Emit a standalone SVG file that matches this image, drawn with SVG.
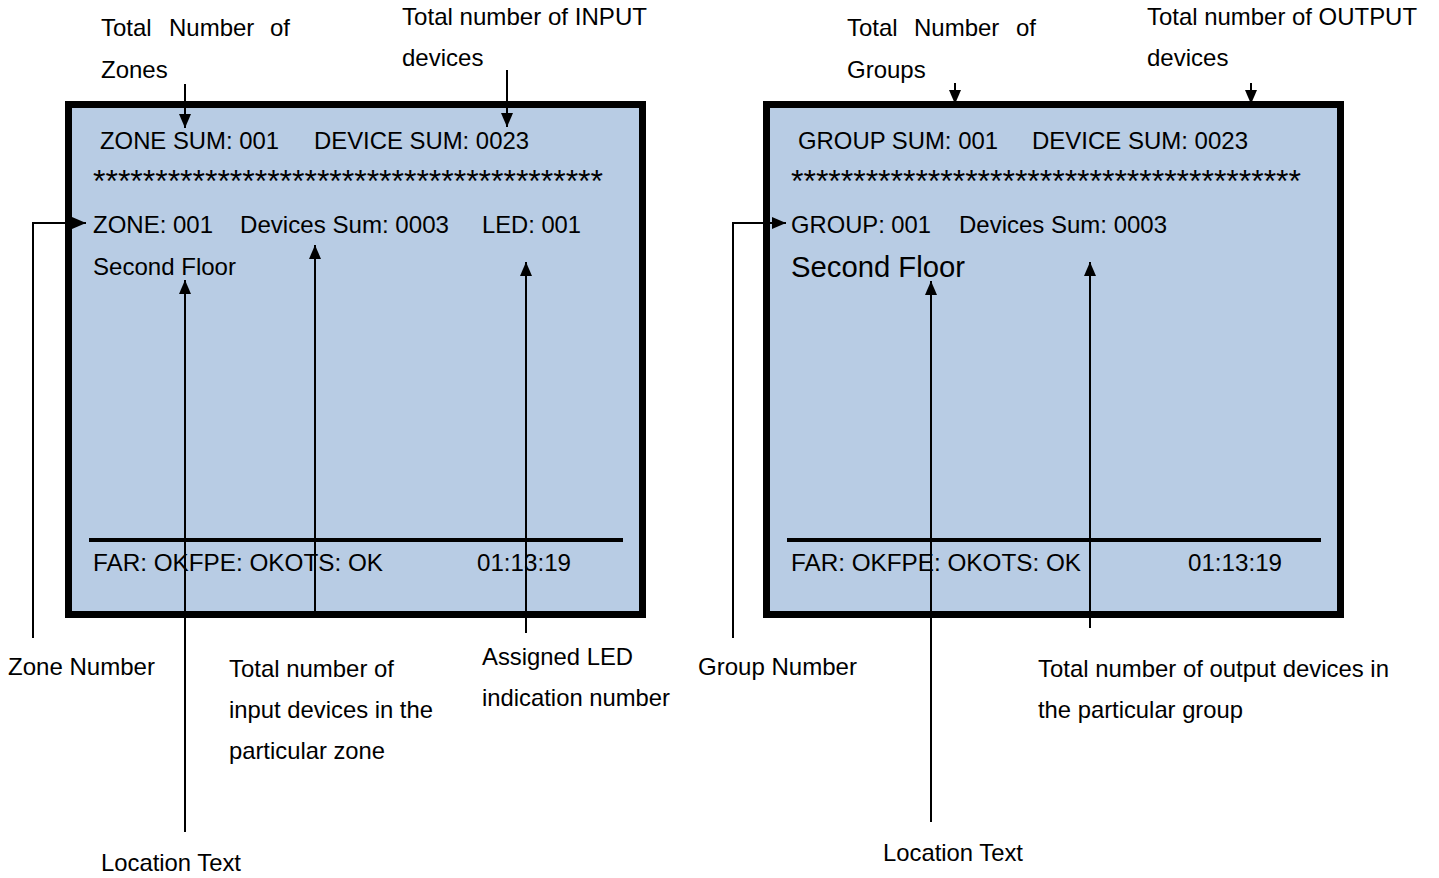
<svg xmlns="http://www.w3.org/2000/svg" width="1439" height="878" viewBox="0 0 1439 878">
<style>
text{font-family:"Liberation Sans",Arial,sans-serif;font-size:24px;fill:#000}
.stars{font-size:32px}
.frame{fill:#b8cce4;stroke:#000;stroke-width:7}
.sep{stroke:#000;stroke-width:4}
.c{fill:none;stroke:#000;stroke-width:2}
</style>
<defs>
<marker id="ah" viewBox="0 0 14 12" refX="14" refY="6" markerWidth="15" markerHeight="12" markerUnits="userSpaceOnUse" orient="auto"><path d="M0,0 L14,6 L0,12 z" fill="#000"/></marker>
</defs>
<rect width="1439" height="878" fill="#fff"/>
<g id="zone-panel">
<rect class="frame" x="68.5" y="104.5" width="574" height="510"/>
<line class="sep" x1="89" y1="540" x2="623" y2="540"/>
<text x="100" y="149" textLength="179" lengthAdjust="spacingAndGlyphs">ZONE SUM: 001</text>
<text x="314" y="149" textLength="215" lengthAdjust="spacingAndGlyphs">DEVICE SUM: 0023</text>
<text class="stars" x="93" y="192" textLength="510" lengthAdjust="spacing">*****************************************</text>
<text x="93" y="233" textLength="120" lengthAdjust="spacingAndGlyphs">ZONE: 001</text>
<text x="240" y="233" textLength="209" lengthAdjust="spacingAndGlyphs">Devices Sum: 0003</text>
<text x="482" y="233" textLength="99" lengthAdjust="spacingAndGlyphs">LED: 001</text>
<text x="93" y="275" textLength="143" lengthAdjust="spacingAndGlyphs">Second Floor</text>
<text x="93" y="571" textLength="290" lengthAdjust="spacingAndGlyphs">FAR: OKFPE: OKOTS: OK</text>
<text x="477" y="571" textLength="94" lengthAdjust="spacingAndGlyphs">01:13:19</text>
</g>
<g id="group-panel">
<rect class="frame" x="766.5" y="104.5" width="574" height="510"/>
<line class="sep" x1="787" y1="540" x2="1321" y2="540"/>
<text x="798" y="149" textLength="200" lengthAdjust="spacingAndGlyphs">GROUP SUM: 001</text>
<text x="1032" y="149" textLength="216" lengthAdjust="spacingAndGlyphs">DEVICE SUM: 0023</text>
<text class="stars" x="791" y="192" textLength="510" lengthAdjust="spacing">*****************************************</text>
<text x="791" y="233" textLength="140" lengthAdjust="spacingAndGlyphs">GROUP: 001</text>
<text x="959" y="233" textLength="208" lengthAdjust="spacingAndGlyphs">Devices Sum: 0003</text>
<text x="791" y="277" style="font-size:29px" textLength="174" lengthAdjust="spacingAndGlyphs">Second Floor</text>
<text x="791" y="571" textLength="290" lengthAdjust="spacingAndGlyphs">FAR: OKFPE: OKOTS: OK</text>
<text x="1188" y="571" textLength="94" lengthAdjust="spacingAndGlyphs">01:13:19</text>
</g>
<g id="labels-left">
<text x="101" y="36">Total</text><text x="169" y="36">Number</text><text x="270" y="36">of</text>
<text x="101" y="78">Zones</text>
<text x="402" y="25" textLength="245" lengthAdjust="spacingAndGlyphs">Total number of INPUT</text>
<text x="402" y="66">devices</text>
<text x="8" y="675" textLength="147" lengthAdjust="spacingAndGlyphs">Zone Number</text>
<text x="229" y="677" textLength="165" lengthAdjust="spacingAndGlyphs">Total number of</text>
<text x="229" y="718" textLength="204" lengthAdjust="spacingAndGlyphs">input devices in the</text>
<text x="229" y="759" textLength="156" lengthAdjust="spacingAndGlyphs">particular zone</text>
<text x="482" y="665" textLength="151" lengthAdjust="spacingAndGlyphs">Assigned LED</text>
<text x="482" y="706" textLength="188" lengthAdjust="spacingAndGlyphs">indication number</text>
<text x="101" y="871" textLength="140" lengthAdjust="spacingAndGlyphs">Location Text</text>
</g>
<g id="labels-right">
<text x="847" y="36">Total</text><text x="914" y="36">Number</text><text x="1016" y="36">of</text>
<text x="847" y="78">Groups</text>
<text x="1147" y="25" textLength="270" lengthAdjust="spacingAndGlyphs">Total number of OUTPUT</text>
<text x="1147" y="66">devices</text>
<text x="698" y="675" textLength="159" lengthAdjust="spacingAndGlyphs">Group Number</text>
<text x="1038" y="677" textLength="351" lengthAdjust="spacingAndGlyphs">Total number of output devices in</text>
<text x="1038" y="718" textLength="205" lengthAdjust="spacingAndGlyphs">the particular group</text>
<text x="883" y="861" textLength="140" lengthAdjust="spacingAndGlyphs">Location Text</text>
</g>
<g id="connectors">
<path class="c" d="M185,84 V128" marker-end="url(#ah)"/>
<path class="c" d="M507,70 V127" marker-end="url(#ah)"/>
<path class="c" d="M33,638 V223 H86" marker-end="url(#ah)"/>
<path class="c" d="M185,832 V280" marker-end="url(#ah)"/>
<path class="c" d="M315,611 V245" marker-end="url(#ah)"/>
<path class="c" d="M526,633 V262" marker-end="url(#ah)"/>
<path class="c" d="M955,83 V104" marker-end="url(#ah)"/>
<path class="c" d="M1251,83 V104" marker-end="url(#ah)"/>
<path class="c" d="M733,638 V223 H786" marker-end="url(#ah)"/>
<path class="c" d="M931,822 V281" marker-end="url(#ah)"/>
<path class="c" d="M1090,628 V262" marker-end="url(#ah)"/>
</g>
</svg>
